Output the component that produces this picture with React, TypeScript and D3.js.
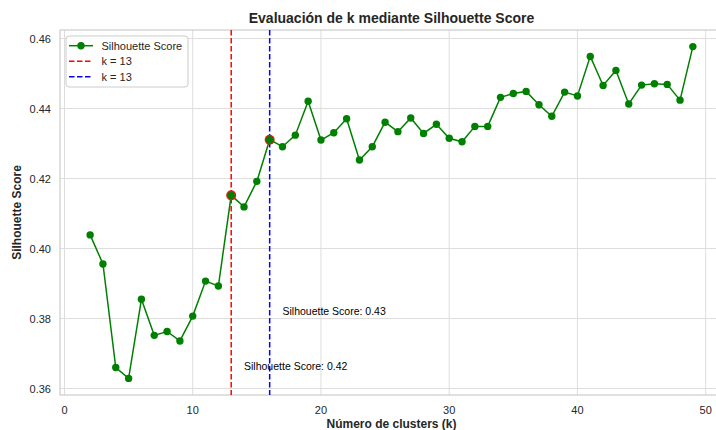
import React from "react";
import * as d3 from "d3";

// Silhouette score per number of clusters
const clusterCounts: number[] = [
  2, 3, 4, 5, 6, 7, 8, 9, 10, 11, 12, 13, 14, 15, 16, 17, 18, 19, 20, 21, 22, 23, 24, 25,
  26, 27, 28, 29, 30, 31, 32, 33, 34, 35, 36, 37, 38, 39, 40, 41, 42, 43, 44, 45, 46, 47, 48, 49,
];
const silhouetteScores: number[] = [
  0.4039, 0.3956, 0.366, 0.3629, 0.3855, 0.3752, 0.3763, 0.3736, 0.3807, 0.3907, 0.3893, 0.4152,
  0.4119, 0.4192, 0.4311, 0.4291, 0.4324, 0.4421, 0.431, 0.4331, 0.4371, 0.4253, 0.4291, 0.4361,
  0.4334, 0.4373, 0.4329, 0.4355, 0.4315, 0.4305, 0.4349, 0.4349, 0.4432, 0.4443, 0.4449, 0.4411,
  0.4378, 0.4447, 0.4436, 0.4549, 0.4466, 0.4509, 0.4413, 0.4467, 0.4471, 0.4469, 0.4424, 0.4577,
];
// Highlighted k values with their legend labels and colours
const markedK: number[] = [13, 16];
const markedLabels: string[] = ["k = 13", "k = 13"];
const markedColors: string[] = ["#ff0000", "#0000ff"];

const xTicks: number[] = [0, 10, 20, 30, 40, 50];
const yTicks: number[] = [0.36, 0.38, 0.4, 0.42, 0.44, 0.46];

const W = 716;
const H = 430;
const M = { left: 60, right: 723, top: 30, bottom: 395 };
const FONT = "'Liberation Sans', Arial, sans-serif";
const GREEN = "#008000";
const GRID = "#dddddd";
const EDGE = "#cccccc";
const TEXT = "#262626";

export default function App() {
  const xMin = d3.min(clusterCounts)!;
  const xMax = d3.max(clusterCounts)!;
  const xPad = (xMax - xMin) * 0.05;
  const yMin = d3.min(silhouetteScores)!;
  const yMax = d3.max(silhouetteScores)!;
  const yPad = (yMax - yMin) * 0.05;

  const x = d3.scaleLinear().domain([xMin - xPad, xMax + xPad]).range([M.left, M.right]);
  const y = d3.scaleLinear().domain([yMin - yPad, yMax + yPad]).range([M.bottom, M.top]);

  const pts = clusterCounts.map((k, i) => ({ k, s: silhouetteScores[i] }));
  const line = d3
    .line<{ k: number; s: number }>()
    .x((d) => x(d.k))
    .y((d) => y(d.s));

  const marked = markedK.map((k, i) => ({
    k,
    s: silhouetteScores[clusterCounts.indexOf(k)],
    color: markedColors[i],
    label: markedLabels[i],
  }));

  const legendItems = [
    { label: "Silhouette Score", kind: "line" as const, color: GREEN },
    ...marked.map((m) => ({ label: m.label, kind: "dash" as const, color: m.color })),
  ];

  return (
    <svg
      width={W}
      height={H}
      style={{ position: "absolute", left: 0, top: 0, background: "#fff" }}
      fontFamily={FONT}
    >
      <rect x={0} y={0} width={W} height={H} fill="#fff" />

      {/* grid */}
      {xTicks.map((t) => (
        <line key={"gx" + t} x1={x(t)} x2={x(t)} y1={M.top} y2={M.bottom} stroke={GRID} strokeWidth={1} />
      ))}
      {yTicks.map((t) => (
        <line key={"gy" + t} x1={M.left} x2={M.right} y1={y(t)} y2={y(t)} stroke={GRID} strokeWidth={1} />
      ))}

      {/* frame */}
      <rect
        x={M.left}
        y={M.top}
        width={M.right - M.left}
        height={M.bottom - M.top}
        fill="none"
        stroke={EDGE}
        strokeWidth={1.2}
      />

      {/* tick labels */}
      {xTicks.map((t) => (
        <text key={"tx" + t} x={x(t)} y={M.bottom + 19} textAnchor="middle" fontSize={11} fill={TEXT}>
          {t}
        </text>
      ))}
      {yTicks.map((t) => (
        <text key={"ty" + t} x={M.left - 9} y={y(t) + 4} textAnchor="end" fontSize={11} fill={TEXT}>
          {t.toFixed(2)}
        </text>
      ))}

      {/* highlighted k lines */}
      {marked.map((m) => (
        <line
          key={"v" + m.k}
          x1={x(m.k)}
          x2={x(m.k)}
          y1={M.top}
          y2={M.bottom}
          stroke={m.color}
          strokeWidth={1.5}
          strokeDasharray="5.5,2.5"
        />
      ))}

      {/* series */}
      <path d={line(pts) ?? ""} fill="none" stroke={GREEN} strokeWidth={1.5} />
      {marked.map((m) => (
        <circle key={"hm" + m.k} cx={x(m.k)} cy={y(m.s)} r={5} fill="#e8190f" />
      ))}
      {pts.map((p) => (
        <circle key={"p" + p.k} cx={x(p.k)} cy={y(p.s)} r={3.7} fill={GREEN} />
      ))}

      {/* score annotations */}
      {marked.map((m) => (
        <text key={"a" + m.k} x={x(m.k + 1)} y={y(m.s - 0.05)} fontSize={10.5} fill="#000">
          {`Silhouette Score: ${m.s.toFixed(2)}`}
        </text>
      ))}

      {/* legend */}
      <g>
        <rect x={66} y={36} width={122} height={51} rx={3} fill="#fff" fillOpacity={0.85} stroke={EDGE} strokeWidth={1} />
        {legendItems.map((it, i) => {
          const cy = 45.7 + i * 15.5;
          return (
            <g key={"lg" + i}>
              {it.kind === "line" ? (
                <>
                  <line x1={69} x2={93} y1={cy} y2={cy} stroke={it.color} strokeWidth={1.5} />
                  <circle cx={81} cy={cy} r={3.7} fill={it.color} />
                </>
              ) : (
                <line x1={69} x2={93} y1={cy} y2={cy} stroke={it.color} strokeWidth={1.5} strokeDasharray="5.5,2.5" />
              )}
              <text x={101.5} y={cy + 4} fontSize={11} fill={TEXT}>
                {it.label}
              </text>
            </g>
          );
        })}
      </g>

      {/* titles */}
      <text x={(M.left + M.right) / 2} y={23} textAnchor="middle" fontSize={14} fontWeight="bold" fill={TEXT}>
        Evaluación de k mediante Silhouette Score
      </text>
      <text x={(M.left + M.right) / 2} y={428} textAnchor="middle" fontSize={12} fontWeight="bold" fill={TEXT}>
        Número de clusters (k)
      </text>
      <text
        transform={`translate(21,${(M.top + M.bottom) / 2}) rotate(-90)`}
        textAnchor="middle"
        fontSize={12}
        fontWeight="bold"
        fill={TEXT}
      >
        Silhouette Score
      </text>
    </svg>
  );
}
